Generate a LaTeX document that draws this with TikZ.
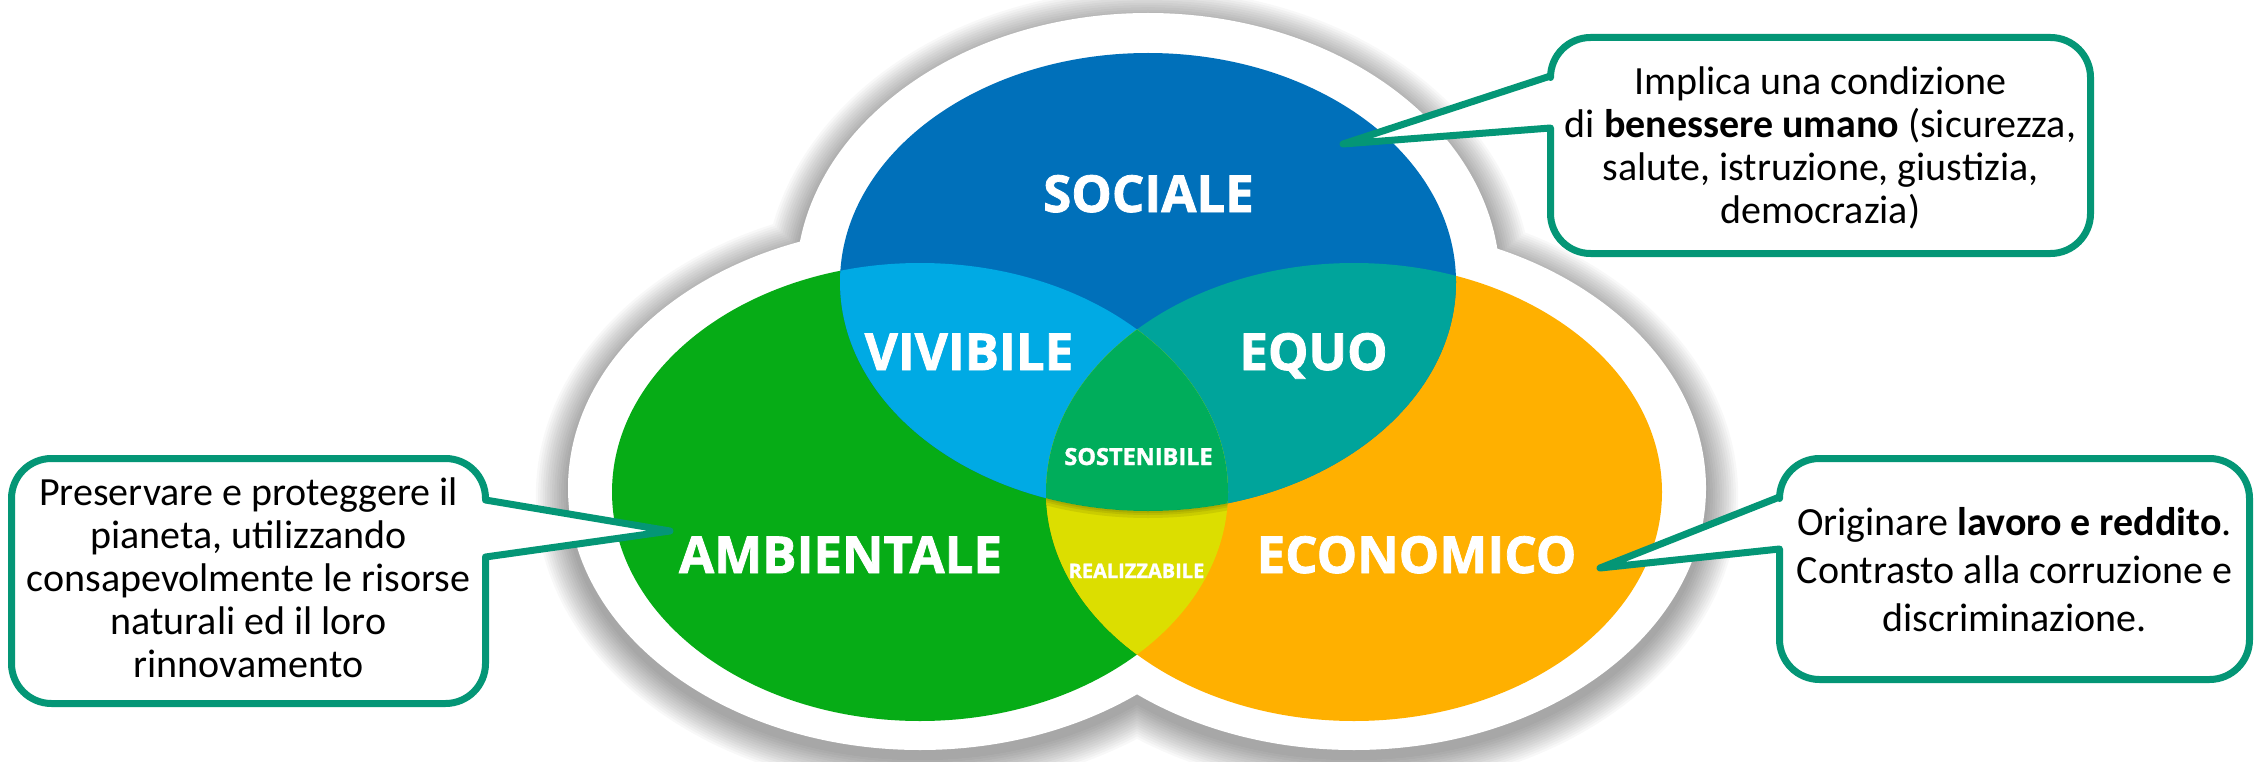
\documentclass[tikz,border=0pt]{standalone}
\usepackage{fontspec}
\setmainfont{Carlito}
\newfontfamily\lblfont{Open Sans}[BoldFeatures={FakeBold=1.5}]
\usetikzlibrary{calc}
\definecolor{cSoc}{RGB}{0,112,186}
\definecolor{cViv}{RGB}{0,170,228}
\definecolor{cEqu}{RGB}{0,164,155}
\definecolor{cSos}{RGB}{0,173,91}
\definecolor{cAmb}{RGB}{6,172,22}
\definecolor{cRea}{RGB}{220,222,0}
\definecolor{cEco}{RGB}{255,176,0}
\definecolor{cLine}{RGB}{4,150,118}
\tikzset{
  callout/.style={draw=cLine, line width=7pt, fill=white, line join=round},
  ctext/.style={align=center, inner sep=0pt, text=black},
  biglbl/.style={anchor=base, text=white, font=\lblfont\bfseries\fontsize{51}{51}\selectfont},
  smalllbl/.style={anchor=base, text=white, font=\lblfont\bfseries\fontsize{23.5}{24}\selectfont},
  tinylbl/.style={anchor=base, text=white, font=\lblfont\bfseries\fontsize{20}{20}\selectfont},
}
\begin{document}
\begin{tikzpicture}[x=1pt,y=-1pt]
\useasboundingbox (0,0) rectangle (2259,762);
\fill[white] (0,0) rectangle (2259,762);
% ellipse centres
\coordinate (cs) at (1148,282);
\coordinate (ca) at (920,492);
\coordinate (ce) at (1354,492);
% soft shadow of the white backdrop
\foreach \k in {1,...,14}{
  \fill[black,opacity=0.026]
    ($(cs)+(0,8)$) ellipse [x radius={(352+2.3*\k)*1pt}, y radius={(269+2.3*\k)*1pt}]
    ($(ca)+(0,4)$) ellipse [x radius={(352+2.3*\k)*1pt}, y radius={(262+2.3*\k)*1pt}]
    ($(ce)+(0,4)$) ellipse [x radius={(352+2.3*\k)*1pt}, y radius={(262+2.3*\k)*1pt}];
}
% white backdrop
\fill[white]
  (cs) ellipse [x radius=352pt, y radius=269pt]
  ($(ca)+(0,-4)$) ellipse [x radius=352pt, y radius=262pt]
  ($(ce)+(0,-4)$) ellipse [x radius=352pt, y radius=262pt];
% main ellipses
\fill[cAmb] (ca) ellipse [x radius=308pt, y radius=229pt];
\fill[cEco] (ce) ellipse [x radius=308pt, y radius=229pt];
\fill[cSoc] (cs) ellipse [x radius=308pt, y radius=229pt];
% intersections
\begin{scope}
  \clip (ca) ellipse [x radius=308pt, y radius=229pt];
  \fill[cViv] (cs) ellipse [x radius=308pt, y radius=229pt];
\end{scope}
\begin{scope}
  \clip (ce) ellipse [x radius=308pt, y radius=229pt];
  \fill[cEqu] (cs) ellipse [x radius=308pt, y radius=229pt];
\end{scope}
\begin{scope}
  \clip (ca) ellipse [x radius=308pt, y radius=229pt];
  \fill[cRea] (ce) ellipse [x radius=308pt, y radius=229pt];
\end{scope}
\begin{scope}
  \clip (ca) ellipse [x radius=308pt, y radius=229pt];
  \clip (ce) ellipse [x radius=308pt, y radius=229pt];
  \fill[cSos] (cs) ellipse [x radius=308pt, y radius=229pt];
\end{scope}
% faint shadow below the social ellipse on the yellow area
\begin{scope}[even odd rule]
  \clip (ca) ellipse [x radius=308pt, y radius=229pt];
  \clip (ce) ellipse [x radius=308pt, y radius=229pt];
  \clip (0,0) rectangle (2259,762) (cs) ellipse [x radius=308pt, y radius=229pt];
  \foreach \w in {4,8,14}{
    \draw[black,opacity=0.08,line width=\w pt] (cs) ellipse [x radius=308pt, y radius=229pt];
  }
\end{scope}
% labels in the diagram
\node[biglbl] (soc) at (1148.5,212) {SOCIALE};
\node[biglbl] (viv) at (969,370) {VIVIBILE};
\node[biglbl] (equ) at (1313.5,370) {EQUO};
\node[biglbl] (amb) at (840.5,573) {AMBIENTALE};
\node[biglbl] (eco) at (1416.5,573) {ECONOMICO};
\node[smalllbl] (sos) at (1138.5,465) {SOSTENIBILE};
\node[tinylbl] (rea) at (1136.5,578) {REALIZZABILE};

% callout 1 (social)
\coordinate (c1tl) at (1550.5,37.5);
\coordinate (c1br) at (2090.5,253.5);
\coordinate (c1p1) at (1550.5,76);
\coordinate (c1p2) at (1550.5,128);
\coordinate (c1tip) at (1343,144);
\draw[callout] (c1p1) [rounded corners=40pt] -- (c1p1 |- c1tl) -- (c1br |- c1tl) -- (c1br)
  -- (c1tl |- c1br) [sharp corners] -- (c1p2) -- (c1tip) -- cycle;
\node[ctext, font=\fontsize{40}{43}\selectfont] (t1) at (1820.5,147.5)
  {Implica una condizione\\di \textbf{benessere umano} (sicurezza,\\salute, istruzione, giustizia,\\democrazia)};

% callout 2 (ambientale)
\coordinate (c2tl) at (11.5,458.5);
\coordinate (c2br) at (485.5,703.5);
\coordinate (c2p1) at (485.5,500);
\coordinate (c2p2) at (485.5,557);
\coordinate (c2tip) at (670,531);
\draw[callout] (c2p2) [rounded corners=40pt] -- (c2br) -- (c2tl |- c2br) -- (c2tl)
  -- (c2br |- c2tl) [sharp corners] -- (c2p1) -- (c2tip) -- cycle;
\node[ctext, font=\fontsize{40}{43}\selectfont] (t2) at (248.5,578)
  {Preservare e proteggere il\\pianeta, utilizzando\\consapevolmente le risorse\\naturali ed il loro\\rinnovamento};

% callout 3 (economico)
\coordinate (c3tl) at (1779.5,458.5);
\coordinate (c3br) at (2249.5,679.5);
\coordinate (c3p1) at (1779.5,497);
\coordinate (c3p2) at (1779.5,549);
\coordinate (c3tip) at (1600,568);
\draw[callout] (c3p1) [rounded corners=40pt] -- (c3tl) -- (c3br |- c3tl) -- (c3br)
  -- (c3tl |- c3br) [sharp corners] -- (c3p2) -- (c3tip) -- cycle;
\node[ctext, font=\fontsize{40}{48}\selectfont] (t3) at (2014.5,570)
  {Originare \textbf{lavoro e reddito}.\\Contrasto alla corruzione e\\discriminazione.};
\end{tikzpicture}
\end{document}
